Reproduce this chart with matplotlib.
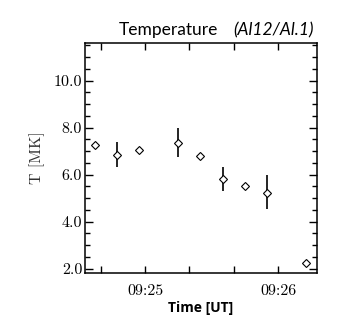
import matplotlib
matplotlib.use("Agg")
import matplotlib.pyplot as plt
import matplotlib.dates as mdates
import matplotlib.ticker as mticker
import numpy as np
from datetime import datetime

# data
times = ["09:24:37.5", "09:24:47.5", "09:24:57.5", "09:25:15", "09:25:25",
         "09:25:35", "09:25:45", "09:25:55", "09:26:12.5"]
temps = [7.26, 6.85, 7.05, 7.35, 6.80, 5.82, 5.50, 5.23, 2.24]
err_lo = [0.0, 0.53, 0.0, 0.60, 0.0, 0.50, 0.0, 0.68, 0.0]
err_hi = [0.0, 0.55, 0.0, 0.65, 0.0, 0.52, 0.0, 0.74, 0.0]
xlim = ["09:24:33", "09:26:17.5"]
ylim = [1.82, 11.6]

day = "2010-01-01 "
def to_dt(s):
    fmt = "%Y-%m-%d %H:%M:%S.%f" if "." in s else "%Y-%m-%d %H:%M:%S"
    return datetime.strptime(day + s, fmt)

t = [to_dt(s) for s in times]

fig = plt.figure(figsize=(3.51, 3.24), dpi=100)
ax = fig.add_axes([85/351, 1 - 273/324, (317-85)/351, (273-43)/324])

has_err = [i for i in range(len(t)) if err_lo[i] > 0]
ax.errorbar([t[i] for i in has_err], [temps[i] for i in has_err],
            yerr=[[err_lo[i] for i in has_err], [err_hi[i] for i in has_err]],
            fmt='none', ecolor='black', elinewidth=1.2, capsize=0, zorder=2)
ax.plot(t, temps, linestyle='none', marker='D', markersize=3.6,
        markerfacecolor='white', markeredgecolor='black', markeredgewidth=0.8, zorder=3)

ax.set_xlim(to_dt(xlim[0]), to_dt(xlim[1]))
ax.set_ylim(*ylim)

ax.xaxis.set_major_locator(mdates.SecondLocator(bysecond=[0, 20, 40]))
ax.xaxis.set_minor_locator(mticker.NullLocator())
def fmt_x(x, pos):
    d = mdates.num2date(x)
    return d.strftime("%H:%M") if d.second == 0 else ""
ax.xaxis.set_major_formatter(mticker.FuncFormatter(fmt_x))

ax.yaxis.set_major_locator(mticker.MultipleLocator(2.0))
ax.yaxis.set_minor_locator(mticker.MultipleLocator(0.5))
ax.yaxis.set_major_formatter(mticker.FormatStrFormatter("%.1f"))

ax.tick_params(which='both', direction='in', top=True, right=True, width=1.0)
ax.tick_params(which='major', length=6)
ax.tick_params(which='minor', length=3.5)
ax.tick_params(axis='x', which='major', length=5, pad=8)
ax.tick_params(axis='y', which='major', pad=2)

for sp in ax.spines.values():
    sp.set_linewidth(1.1)

for lab in ax.get_xticklabels() + ax.get_yticklabels():
    lab.set_fontfamily('cmr10')
    lab.set_fontsize(11.5)

ax.set_ylabel("T [MK]", fontfamily='cmr10', fontsize=11.5, color='#333333', labelpad=6)
ax.set_xlabel("Time [UT]", fontfamily='Open Sans', fontweight='bold', fontsize=10, labelpad=2)

fig.text(218/351, 1 - 35/324, "Temperature", ha='right', va='baseline',
         fontfamily='Lato', fontsize=12.5, color='black')
fig.text(314/351, 1 - 35/324, "(Al12/Al.1)", ha='right', va='baseline',
         fontfamily='Lato', fontstyle='italic', fontsize=12.5, color='black')

fig.savefig("out.png", dpi=100)
